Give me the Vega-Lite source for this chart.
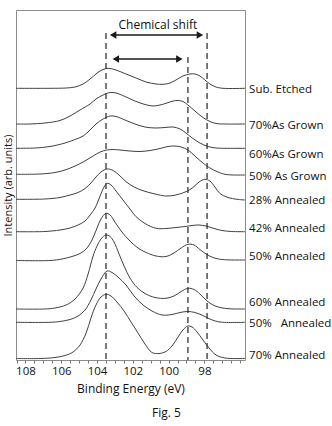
{
  "$schema": "https://vega.github.io/schema/vega-lite/v6.json",
  "autosize": {"type": "none"},
  "width": 229,
  "height": 350,
  "padding": {"left": 16, "top": 10, "right": 87, "bottom": 66},
  "config": {
    "view": {"stroke": "#8c8c8c", "strokeWidth": 1},
    "font": "Open Sans",
    "axis": {"labelFont": "Open Sans", "titleFont": "Open Sans", "labelColor": "#111", "titleColor": "#111", "titleFontWeight": "normal"}
  },
  "title": {"text": "Fig. 5", "orient": "bottom", "anchor": "middle", "dx": 36, "offset": 13, "fontSize": 12, "fontWeight": "normal", "font": "Open Sans", "color": "#111"},
  "datasets": {
    "spectra": [
      {"s": 1, "e": 108.53, "v": 271.7}, {"s": 1, "e": 106.63, "v": 271.7}, {"s": 1, "e": 105.73, "v": 272}, {"s": 1, "e": 105.23, "v": 273}, {"s": 1, "e": 104.78, "v": 276}, {"s": 1, "e": 104.39, "v": 281}, {"s": 1, "e": 104.06, "v": 286}, {"s": 1, "e": 103.83, "v": 289}, {"s": 1, "e": 103.5, "v": 291.5}, {"s": 1, "e": 103.27, "v": 291.5}, {"s": 1, "e": 102.94, "v": 290}, {"s": 1, "e": 102.38, "v": 286}, {"s": 1, "e": 101.82, "v": 282}, {"s": 1, "e": 101.26, "v": 278}, {"s": 1, "e": 100.7, "v": 276}, {"s": 1, "e": 100.31, "v": 275.7}, {"s": 1, "e": 99.92, "v": 277}, {"s": 1, "e": 99.59, "v": 280}, {"s": 1, "e": 99.2, "v": 284}, {"s": 1, "e": 98.8, "v": 286}, {"s": 1, "e": 98.53, "v": 286}, {"s": 1, "e": 98.25, "v": 284}, {"s": 1, "e": 97.97, "v": 280}, {"s": 1, "e": 97.69, "v": 276}, {"s": 1, "e": 97.35, "v": 273}, {"s": 1, "e": 96.96, "v": 271.7}, {"s": 1, "e": 95.73, "v": 271.7},
      {"s": 2, "e": 108.53, "v": 236}, {"s": 2, "e": 107.74, "v": 236}, {"s": 2, "e": 106.91, "v": 237}, {"s": 2, "e": 106.07, "v": 239.5}, {"s": 2, "e": 105.51, "v": 244}, {"s": 2, "e": 104.95, "v": 250}, {"s": 2, "e": 104.39, "v": 256}, {"s": 2, "e": 104.06, "v": 261}, {"s": 2, "e": 103.66, "v": 265}, {"s": 2, "e": 103.27, "v": 267.5}, {"s": 2, "e": 102.94, "v": 267}, {"s": 2, "e": 102.44, "v": 263.5}, {"s": 2, "e": 101.88, "v": 259}, {"s": 2, "e": 101.32, "v": 255.5}, {"s": 2, "e": 100.87, "v": 254}, {"s": 2, "e": 100.48, "v": 255}, {"s": 2, "e": 100.09, "v": 257}, {"s": 2, "e": 99.75, "v": 259}, {"s": 2, "e": 99.47, "v": 259.5}, {"s": 2, "e": 99.2, "v": 258.5}, {"s": 2, "e": 98.92, "v": 255}, {"s": 2, "e": 98.53, "v": 249}, {"s": 2, "e": 98.08, "v": 242.5}, {"s": 2, "e": 97.69, "v": 238.5}, {"s": 2, "e": 97.35, "v": 236.5}, {"s": 2, "e": 96.85, "v": 236}, {"s": 2, "e": 95.73, "v": 236},
      {"s": 3, "e": 108.53, "v": 211.7}, {"s": 3, "e": 107.46, "v": 212}, {"s": 3, "e": 106.63, "v": 213.5}, {"s": 3, "e": 105.79, "v": 217}, {"s": 3, "e": 105.23, "v": 220.5}, {"s": 3, "e": 104.78, "v": 224}, {"s": 3, "e": 104.39, "v": 230}, {"s": 3, "e": 104.06, "v": 236}, {"s": 3, "e": 103.66, "v": 241}, {"s": 3, "e": 103.27, "v": 244}, {"s": 3, "e": 102.94, "v": 243.5}, {"s": 3, "e": 102.44, "v": 240}, {"s": 3, "e": 101.88, "v": 236}, {"s": 3, "e": 101.32, "v": 233}, {"s": 3, "e": 100.76, "v": 232}, {"s": 3, "e": 100.2, "v": 232.5}, {"s": 3, "e": 99.75, "v": 233}, {"s": 3, "e": 99.36, "v": 231}, {"s": 3, "e": 99.03, "v": 227}, {"s": 3, "e": 98.64, "v": 221.5}, {"s": 3, "e": 98.25, "v": 217}, {"s": 3, "e": 97.8, "v": 213.5}, {"s": 3, "e": 97.35, "v": 212}, {"s": 3, "e": 96.85, "v": 211.7}, {"s": 3, "e": 95.73, "v": 211.7},
      {"s": 4, "e": 108.53, "v": 185.7}, {"s": 4, "e": 107.18, "v": 186}, {"s": 4, "e": 106.35, "v": 187.5}, {"s": 4, "e": 105.79, "v": 190}, {"s": 4, "e": 105.23, "v": 194}, {"s": 4, "e": 104.78, "v": 198}, {"s": 4, "e": 104.22, "v": 204}, {"s": 4, "e": 103.83, "v": 208}, {"s": 4, "e": 103.44, "v": 210}, {"s": 4, "e": 103.11, "v": 210.5}, {"s": 4, "e": 102.72, "v": 210}, {"s": 4, "e": 102.16, "v": 209}, {"s": 4, "e": 101.6, "v": 208.5}, {"s": 4, "e": 101.04, "v": 209.5}, {"s": 4, "e": 100.48, "v": 211.5}, {"s": 4, "e": 100.03, "v": 213.5}, {"s": 4, "e": 99.64, "v": 214}, {"s": 4, "e": 99.3, "v": 213}, {"s": 4, "e": 98.92, "v": 210}, {"s": 4, "e": 98.47, "v": 203}, {"s": 4, "e": 98.08, "v": 197}, {"s": 4, "e": 97.69, "v": 192}, {"s": 4, "e": 97.24, "v": 188}, {"s": 4, "e": 96.79, "v": 185.5}, {"s": 4, "e": 95.73, "v": 185},
      {"s": 5, "e": 108.53, "v": 160.7}, {"s": 5, "e": 106.91, "v": 161}, {"s": 5, "e": 106.07, "v": 162.5}, {"s": 5, "e": 105.51, "v": 165}, {"s": 5, "e": 105.06, "v": 167.5}, {"s": 5, "e": 104.67, "v": 171.5}, {"s": 5, "e": 104.34, "v": 177}, {"s": 5, "e": 104.06, "v": 183}, {"s": 5, "e": 103.78, "v": 188}, {"s": 5, "e": 103.44, "v": 191}, {"s": 5, "e": 103.16, "v": 190}, {"s": 5, "e": 102.83, "v": 186}, {"s": 5, "e": 102.38, "v": 178.3}, {"s": 5, "e": 101.93, "v": 173}, {"s": 5, "e": 101.43, "v": 169.3}, {"s": 5, "e": 100.76, "v": 166}, {"s": 5, "e": 100.15, "v": 164}, {"s": 5, "e": 99.59, "v": 165}, {"s": 5, "e": 99.03, "v": 168.3}, {"s": 5, "e": 98.64, "v": 172.5}, {"s": 5, "e": 98.3, "v": 178}, {"s": 5, "e": 97.97, "v": 180.7}, {"s": 5, "e": 97.69, "v": 179}, {"s": 5, "e": 97.41, "v": 173}, {"s": 5, "e": 97.13, "v": 166.5}, {"s": 5, "e": 96.68, "v": 162.5}, {"s": 5, "e": 96.18, "v": 160.7}, {"s": 5, "e": 95.73, "v": 160},
      {"s": 6, "e": 108.53, "v": 128.3}, {"s": 6, "e": 106.91, "v": 128.5}, {"s": 6, "e": 106.07, "v": 130}, {"s": 6, "e": 105.51, "v": 132}, {"s": 6, "e": 105.06, "v": 135}, {"s": 6, "e": 104.67, "v": 139}, {"s": 6, "e": 104.39, "v": 145}, {"s": 6, "e": 104.11, "v": 152}, {"s": 6, "e": 103.83, "v": 164}, {"s": 6, "e": 103.61, "v": 173}, {"s": 6, "e": 103.44, "v": 176.7}, {"s": 6, "e": 103.22, "v": 175}, {"s": 6, "e": 102.94, "v": 169}, {"s": 6, "e": 102.55, "v": 160}, {"s": 6, "e": 102.16, "v": 151}, {"s": 6, "e": 101.82, "v": 143.3}, {"s": 6, "e": 101.32, "v": 136.5}, {"s": 6, "e": 100.7, "v": 131.7}, {"s": 6, "e": 100.15, "v": 131.5}, {"s": 6, "e": 99.59, "v": 132.5}, {"s": 6, "e": 99.08, "v": 133.5}, {"s": 6, "e": 98.69, "v": 134.5}, {"s": 6, "e": 98.3, "v": 135}, {"s": 6, "e": 97.91, "v": 134}, {"s": 6, "e": 97.46, "v": 131.5}, {"s": 6, "e": 97.02, "v": 129.5}, {"s": 6, "e": 96.46, "v": 128.5}, {"s": 6, "e": 95.73, "v": 128.3},
      {"s": 7, "e": 108.53, "v": 99.5}, {"s": 7, "e": 106.63, "v": 99.5}, {"s": 7, "e": 105.96, "v": 101}, {"s": 7, "e": 105.4, "v": 103.5}, {"s": 7, "e": 104.95, "v": 106.5}, {"s": 7, "e": 104.61, "v": 111}, {"s": 7, "e": 104.28, "v": 120}, {"s": 7, "e": 104.0, "v": 132}, {"s": 7, "e": 103.78, "v": 141}, {"s": 7, "e": 103.5, "v": 146.7}, {"s": 7, "e": 103.27, "v": 145}, {"s": 7, "e": 103.0, "v": 138}, {"s": 7, "e": 102.61, "v": 128}, {"s": 7, "e": 102.16, "v": 119}, {"s": 7, "e": 101.71, "v": 112}, {"s": 7, "e": 101.26, "v": 107.5}, {"s": 7, "e": 100.7, "v": 104}, {"s": 7, "e": 100.15, "v": 103.5}, {"s": 7, "e": 99.7, "v": 107}, {"s": 7, "e": 99.3, "v": 112}, {"s": 7, "e": 98.92, "v": 115.7}, {"s": 7, "e": 98.58, "v": 115}, {"s": 7, "e": 98.25, "v": 110.5}, {"s": 7, "e": 97.91, "v": 106}, {"s": 7, "e": 97.52, "v": 102.5}, {"s": 7, "e": 97.02, "v": 100.5}, {"s": 7, "e": 95.73, "v": 100},
      {"s": 8, "e": 108.53, "v": 51}, {"s": 8, "e": 106.91, "v": 51}, {"s": 8, "e": 106.35, "v": 52}, {"s": 8, "e": 105.73, "v": 55}, {"s": 8, "e": 105.23, "v": 61}, {"s": 8, "e": 104.78, "v": 72}, {"s": 8, "e": 104.5, "v": 86}, {"s": 8, "e": 104.22, "v": 104}, {"s": 8, "e": 104.0, "v": 114}, {"s": 8, "e": 103.78, "v": 121}, {"s": 8, "e": 103.5, "v": 125}, {"s": 8, "e": 103.27, "v": 123.5}, {"s": 8, "e": 103.05, "v": 118}, {"s": 8, "e": 102.77, "v": 106}, {"s": 8, "e": 102.49, "v": 94}, {"s": 8, "e": 102.16, "v": 82}, {"s": 8, "e": 101.76, "v": 72.5}, {"s": 8, "e": 101.32, "v": 66.5}, {"s": 8, "e": 100.76, "v": 62.5}, {"s": 8, "e": 100.15, "v": 61.7}, {"s": 8, "e": 99.7, "v": 64}, {"s": 8, "e": 99.3, "v": 68.5}, {"s": 8, "e": 98.92, "v": 71.7}, {"s": 8, "e": 98.58, "v": 70.5}, {"s": 8, "e": 98.25, "v": 66}, {"s": 8, "e": 97.91, "v": 60}, {"s": 8, "e": 97.57, "v": 55.5}, {"s": 8, "e": 97.13, "v": 52.5}, {"s": 8, "e": 96.57, "v": 51.2}, {"s": 8, "e": 95.73, "v": 51},
      {"s": 9, "e": 108.53, "v": 37.7}, {"s": 9, "e": 106.63, "v": 37.7}, {"s": 9, "e": 106.07, "v": 38.5}, {"s": 9, "e": 105.51, "v": 40.5}, {"s": 9, "e": 105.06, "v": 44}, {"s": 9, "e": 104.67, "v": 50}, {"s": 9, "e": 104.34, "v": 60}, {"s": 9, "e": 104.06, "v": 71}, {"s": 9, "e": 103.78, "v": 81}, {"s": 9, "e": 103.44, "v": 89}, {"s": 9, "e": 103.16, "v": 87.5}, {"s": 9, "e": 102.83, "v": 83}, {"s": 9, "e": 102.38, "v": 75}, {"s": 9, "e": 101.93, "v": 64}, {"s": 9, "e": 101.43, "v": 55}, {"s": 9, "e": 100.93, "v": 49}, {"s": 9, "e": 100.37, "v": 45}, {"s": 9, "e": 99.81, "v": 45.5}, {"s": 9, "e": 99.36, "v": 47.5}, {"s": 9, "e": 98.92, "v": 48.5}, {"s": 9, "e": 98.53, "v": 47.5}, {"s": 9, "e": 98.08, "v": 44.5}, {"s": 9, "e": 97.63, "v": 40.5}, {"s": 9, "e": 97.13, "v": 38}, {"s": 9, "e": 95.73, "v": 37.7},
      {"s": 10, "e": 108.53, "v": 1.5}, {"s": 10, "e": 107.18, "v": 1.5}, {"s": 10, "e": 106.35, "v": 2.5}, {"s": 10, "e": 105.79, "v": 4.5}, {"s": 10, "e": 105.34, "v": 8}, {"s": 10, "e": 104.95, "v": 15}, {"s": 10, "e": 104.61, "v": 27}, {"s": 10, "e": 104.34, "v": 42}, {"s": 10, "e": 104.06, "v": 55}, {"s": 10, "e": 103.78, "v": 63}, {"s": 10, "e": 103.5, "v": 65.7}, {"s": 10, "e": 103.22, "v": 64}, {"s": 10, "e": 102.89, "v": 58}, {"s": 10, "e": 102.49, "v": 49}, {"s": 10, "e": 102.1, "v": 38}, {"s": 10, "e": 101.71, "v": 27}, {"s": 10, "e": 101.32, "v": 16}, {"s": 10, "e": 100.93, "v": 7.5}, {"s": 10, "e": 100.54, "v": 6.5}, {"s": 10, "e": 100.15, "v": 8.5}, {"s": 10, "e": 99.81, "v": 14}, {"s": 10, "e": 99.47, "v": 23}, {"s": 10, "e": 99.2, "v": 30}, {"s": 10, "e": 98.92, "v": 34}, {"s": 10, "e": 98.69, "v": 33}, {"s": 10, "e": 98.41, "v": 28}, {"s": 10, "e": 98.08, "v": 20}, {"s": 10, "e": 97.74, "v": 12}, {"s": 10, "e": 97.35, "v": 5}, {"s": 10, "e": 96.85, "v": 2}, {"s": 10, "e": 95.73, "v": 1.5}
    ],
    "labels": [
      {"t": "Sub. Etched", "e": 95.5, "v": 270},
      {"t": "70%As Grown", "e": 95.5, "v": 234},
      {"t": "60%As Grown", "e": 95.5, "v": 205},
      {"t": "50% As Grown", "e": 95.5, "v": 183},
      {"t": "28% Annealed", "e": 95.5, "v": 159},
      {"t": "42% Annealed", "e": 95.5, "v": 131},
      {"t": "50% Annealed", "e": 95.5, "v": 103},
      {"t": "60% Annealed", "e": 95.5, "v": 57},
      {"t": "50%\u00a0\u00a0 Annealed", "e": 95.5, "v": 36},
      {"t": "70% Annealed", "e": 95.5, "v": 4}
    ],
    "dashes": [
      {"e": 103.5, "top": 327},
      {"e": 98.92, "top": 303},
      {"e": 97.85, "top": 327}
    ],
    "arrows": [
      {"from": 103.2, "to": 98.15, "v": 325},
      {"from": 103.05, "to": 99.3, "v": 301}
    ],
    "heads": [
      {"e": 103.1, "v": 325, "side": "left"},
      {"e": 98.25, "v": 325, "side": "right"},
      {"e": 102.95, "v": 301, "side": "left"},
      {"e": 99.4, "v": 301, "side": "right"}
    ],
    "note": [
      {"t": "Chemical shift", "e": 100.6, "v": 335}
    ]
  },
  "encoding": {
    "x": {"field": "e", "type": "quantitative", "scale": {"domain": [95.73, 108.53], "reverse": true, "nice": false, "zero": false},
      "axis": {"title": "Binding Energy (eV)", "values": [96, 96.5, 97, 97.5, 98, 98.5, 99, 99.5, 100, 100.5, 101, 101.5, 102, 102.5, 103, 103.5, 104, 104.5, 105, 105.5, 106, 106.5, 107, 107.5, 108, 108.5],
        "labelExpr": "datum.value % 2 === 0 && datum.value <= 108 && datum.value >= 98 ? datum.value : ''",
        "domain": false, "grid": false, "tickSize": 3, "tickColor": "#777", "labelFontSize": 11.5, "labelPadding": 2, "titleFontSize": 12, "titlePadding": 7, "labelFlush": false, "labelOverlap": false}},
    "y": {"field": "v", "type": "quantitative", "scale": {"domain": [0, 350], "nice": false, "zero": false},
      "axis": {"title": "Intensity (arb. units)", "labels": false, "ticks": false, "domain": false, "grid": false, "titleFontSize": 11, "titlePadding": 3}}
  },
  "layer": [
    {
      "data": {"name": "spectra"},
      "mark": {"type": "line", "interpolate": "catmull-rom", "color": "#404040", "strokeWidth": 1},
      "encoding": {"detail": {"field": "s", "type": "nominal"}}
    },
    {
      "data": {"name": "dashes"},
      "mark": {"type": "rule", "color": "#333", "strokeWidth": 1.3, "strokeDash": [6, 4]},
      "encoding": {"y": {"field": "top", "type": "quantitative"}, "y2": {"datum": 0}}
    },
    {
      "data": {"name": "arrows"},
      "mark": {"type": "rule", "color": "#1a1a1a", "strokeWidth": 1.4},
      "encoding": {"x": {"field": "from", "type": "quantitative"}, "x2": {"field": "to"}}
    },
    {
      "data": {"name": "heads"},
      "mark": {"type": "point", "filled": true, "color": "#1a1a1a", "size": 55, "opacity": 1},
      "encoding": {"shape": {"field": "side", "type": "nominal", "scale": {"domain": ["left", "right"], "range": ["triangle-left", "triangle-right"]}, "legend": null}}
    },
    {
      "data": {"name": "note"},
      "mark": {"type": "text", "fontSize": 12, "color": "#111", "align": "center", "baseline": "middle"},
      "encoding": {"text": {"field": "t"}}
    },
    {
      "data": {"name": "labels"},
      "mark": {"type": "text", "fontSize": 11.5, "color": "#111", "align": "left", "baseline": "middle", "clip": false},
      "encoding": {"text": {"field": "t"}}
    }
  ]
}
